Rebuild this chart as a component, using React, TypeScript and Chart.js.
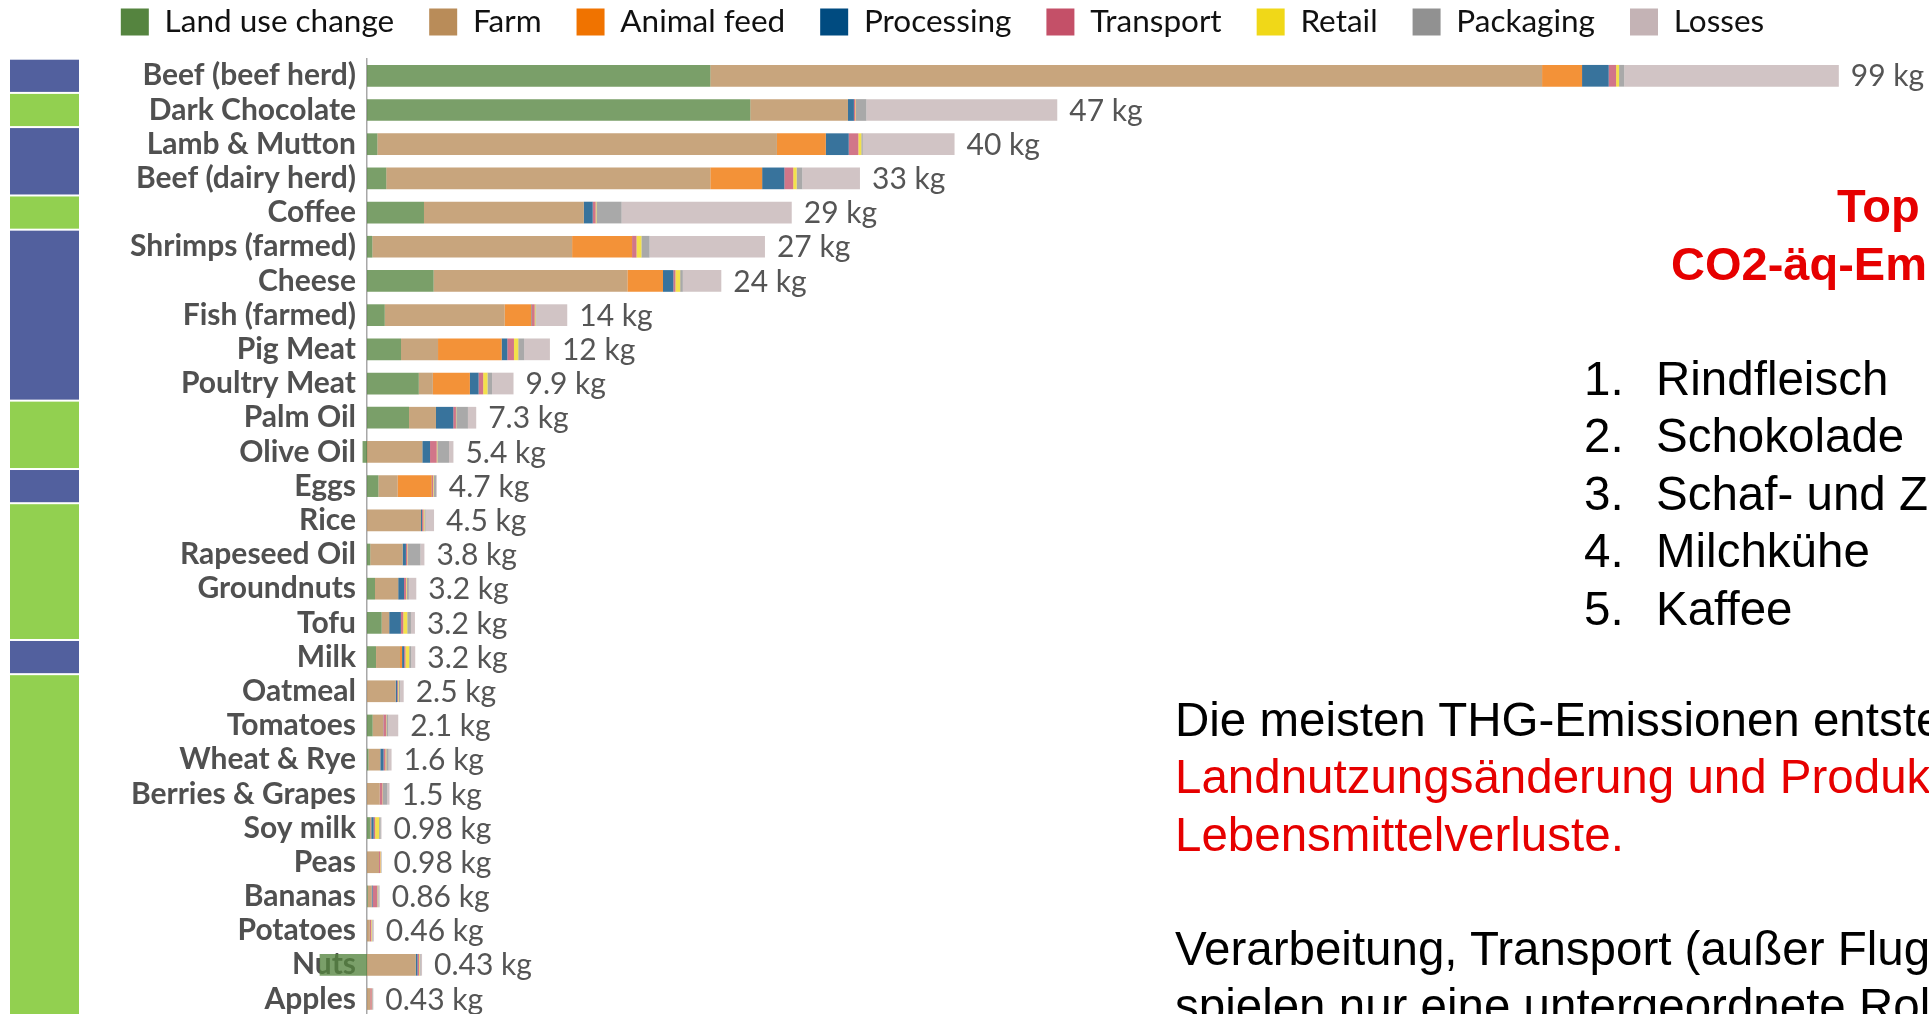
import React, { useEffect, useRef } from "react";
import { Chart, registerables } from "chart.js";

Chart.register(...registerables);

// ---------- DATA ----------
const categories = [
  "Beef (beef herd)", "Dark Chocolate", "Lamb & Mutton", "Beef (dairy herd)", "Coffee",
  "Shrimps (farmed)", "Cheese", "Fish (farmed)", "Pig Meat", "Poultry Meat",
  "Palm Oil", "Olive Oil", "Eggs", "Rice", "Rapeseed Oil", "Groundnuts", "Tofu", "Milk",
  "Oatmeal", "Tomatoes", "Wheat & Rye", "Berries & Grapes", "Soy milk", "Peas",
  "Bananas", "Potatoes", "Nuts", "Apples",
];

// animal (blue) vs plant (green) marker on the left
const foodGroup = [
  "animal", "plant", "animal", "animal", "plant",
  "animal", "animal", "animal", "animal", "animal",
  "plant", "plant", "animal", "plant", "plant", "plant", "plant", "animal",
  "plant", "plant", "plant", "plant", "plant", "plant",
  "plant", "plant", "plant", "plant",
];

const stageNames = ["Land use change", "Farm", "Animal feed", "Processing", "Transport", "Retail", "Packaging", "Losses"];

const landUseChange = [23.2, 25.9, 0.7, 1.3, 3.85, 0.36, 4.5, 1.2, 2.3, 3.5, 2.84, -0.3, 0.77, 0, 0.22, 0.54, 0.99, 0.61, 0, 0.38, 0.1, 0, 0.2, 0, 0.05, 0, -3.2, 0];
const farm = [56.2, 6.6, 27.0, 21.9, 10.8, 13.5, 13.1, 8.1, 2.5, 0.95, 1.82, 3.74, 1.3, 3.65, 2.19, 1.57, 0.51, 1.62, 1.94, 0.72, 0.8, 0.86, 0.09, 0.81, 0.27, 0.19, 3.3, 0.22];
const animalFeed = [2.7, 0, 3.3, 3.5, 0, 4.05, 2.4, 1.8, 4.3, 2.5, 0, 0, 2.3, 0, 0, 0, 0, 0.14, 0, 0, 0, 0, 0, 0, 0, 0, 0, 0];
const processing = [1.8, 0.4, 1.55, 1.5, 0.6, 0, 0.7, 0.03, 0.38, 0.59, 1.17, 0.52, 0.02, 0.07, 0.22, 0.39, 0.79, 0.14, 0.1, 0.01, 0.22, 0, 0.16, 0, 0.06, 0, 0.11, 0];
const transport = [0.5, 0.1, 0.65, 0.6, 0.2, 0.3, 0.14, 0.2, 0.45, 0.31, 0.18, 0.45, 0.08, 0.1, 0.09, 0.14, 0.16, 0.09, 0.06, 0.18, 0.13, 0.18, 0.1, 0.09, 0.3, 0.09, 0.11, 0.1];
const retail = [0.2, 0.04, 0.2, 0.23, 0.05, 0.33, 0.32, 0.05, 0.29, 0.29, 0.02, 0.04, 0.04, 0.06, 0.03, 0.04, 0.27, 0.25, 0.04, 0.02, 0.05, 0.02, 0.27, 0.04, 0.02, 0.04, 0.04, 0.02];
const packaging = [0.35, 0.7, 0.1, 0.38, 1.7, 0.55, 0.18, 0.05, 0.4, 0.31, 0.79, 0.79, 0.16, 0.08, 0.86, 0.15, 0.25, 0.14, 0.1, 0.13, 0.16, 0.3, 0.1, 0.04, 0.07, 0.04, 0.06, 0.04];
const losses = [14.5, 12.9, 6.2, 3.9, 11.5, 7.8, 2.6, 2.1, 1.74, 1.45, 0.56, 0.3, 0.05, 0.57, 0.27, 0.5, 0.27, 0.27, 0.24, 0.67, 0.2, 0.16, 0.06, 0, 0.09, 0.1, 0.1, 0.05];

const totalLabels = [
  "99 kg", "47 kg", "40 kg", "33 kg", "29 kg", "27 kg", "24 kg", "14 kg", "12 kg", "9.9 kg",
  "7.3 kg", "5.4 kg", "4.7 kg", "4.5 kg", "3.8 kg", "3.2 kg", "3.2 kg", "3.2 kg", "2.5 kg",
  "2.1 kg", "1.6 kg", "1.5 kg", "0.98 kg", "0.98 kg", "0.86 kg", "0.46 kg", "0.43 kg", "0.43 kg",
];

const stageValues = [landUseChange, farm, animalFeed, processing, transport, retail, packaging, losses];

const topTitle = ["Top 5", "CO2-äq-Emittenten"];
const topList = ["Rindfleisch", "Schokolade", "Schaf- und Ziegenfleisch", "Milchkühe", "Kaffee"];

// ---------- STYLE ----------
const legendColors = ["#55843f", "#b98c59", "#f07300", "#004b80", "#c45068", "#f0d818", "#919191", "#c4b3b5"];
const BAR_ALPHA = 0.78;
const STRIP_BLUE = "#52609e";
const STRIP_GREEN = "#92d050";
const RED = "#e60000";
const TICK_FONT_SIZE = 30;
const TICK_PADDING = 11;
const BOTTOM_PAD = (TICK_FONT_SIZE * 1.2) / 2 + TICK_PADDING;
const LEGEND_FONT = 31.5;
const LEGEND_PAD = 35;
const LEGEND_CENTER_Y = 22;
const PLOT_TOP = 58.7;
const PLOT_BOTTOM = 1016.1;
const TOP_PAD = LEGEND_CENTER_Y - LEGEND_PAD - LEGEND_FONT / 2;
const LEGEND_BOTTOM = TOP_PAD + LEGEND_FONT + LEGEND_PAD + 10;

function withAlpha(hex: string, a: number) {
  const r = parseInt(hex.slice(1, 3), 16);
  const g = parseInt(hex.slice(3, 5), 16);
  const b = parseInt(hex.slice(5, 7), 16);
  return `rgba(${r},${g},${b},${a})`;
}

const sideStripPlugin = {
  id: "sideStrip",
  afterDraw(chart: any) {
    const y = chart.scales.y;
    const ctx = chart.ctx;
    const n = categories.length;
    const half = (y.getPixelForValue(1) - y.getPixelForValue(0)) / 2;
    ctx.save();
    let start = 0;
    for (let i = 1; i <= n; i++) {
      if (i === n || foodGroup[i] !== foodGroup[start]) {
        const top = y.getPixelForValue(start) - half + 1;
        const bottom = y.getPixelForValue(i - 1) + half - 1;
        ctx.fillStyle = foodGroup[start] === "animal" ? STRIP_BLUE : STRIP_GREEN;
        ctx.fillRect(10, top, 69, bottom - top);
        start = i;
      }
    }
    ctx.restore();
  },
};

const totalsPlugin = {
  id: "totals",
  afterDatasetsDraw(chart: any) {
    const x = chart.scales.x;
    const y = chart.scales.y;
    const ctx = chart.ctx;
    ctx.save();
    ctx.font = "30px Lato";
    ctx.fillStyle = "#555555";
    ctx.textBaseline = "middle";
    ctx.textAlign = "left";
    categories.forEach((_, i) => {
      let pos = 0;
      chart.data.datasets.forEach((ds: any) => {
        const v = ds.data[i];
        if (v > 0) pos += v;
      });
      ctx.fillText(totalLabels[i], x.getPixelForValue(pos) + 12, y.getPixelForValue(i) + 1);
    });
    ctx.restore();
  },
};

function ChartBox() {
  const ref = useRef<HTMLCanvasElement | null>(null);
  useEffect(() => {
    if (!ref.current) return;
    const chart = new Chart(ref.current, {
      type: "bar",
      data: {
        labels: categories,
        datasets: stageNames.map((name, k) => ({
          label: name,
          data: stageValues[k],
          backgroundColor: withAlpha(legendColors[k], BAR_ALPHA),
          borderWidth: 0,
          barPercentage: 0.635,
          categoryPercentage: 1,
          clip: false as any,
        })),
      },
      options: {
        indexAxis: "y",
        animation: false,
        responsive: true,
        maintainAspectRatio: false,
        layout: { padding: { top: TOP_PAD, right: 44, left: 0, bottom: BOTTOM_PAD } },
        plugins: {
          tooltip: { enabled: false },
          legend: {
            display: true,
            position: "top",
            align: "center",
            labels: {
              boxWidth: 28,
              boxHeight: 27,
              padding: LEGEND_PAD,
              color: "#111111",
              font: { family: "Lato", size: LEGEND_FONT },
              generateLabels: (c: any) =>
                c.data.datasets.map((ds: any, i: number) => ({
                  text: ds.label,
                  fillStyle: legendColors[i],
                  strokeStyle: legendColors[i],
                  lineWidth: 0,
                  hidden: false,
                  datasetIndex: i,
                  fontColor: "#111111",
                })),
            },
          },
        },
        scales: {
          x: {
            stacked: true,
            position: "top",
            min: 0,
            max: 102.57,
            display: true,
            ticks: { display: false },
            grid: { display: false, drawTicks: false },
            border: { display: false },
            afterFit: (s: any) => { s.height = PLOT_TOP - LEGEND_BOTTOM; },
          },
          y: {
            stacked: true,
            ticks: {
              autoSkip: false,
              color: "#505050",
              font: { family: "Lato", size: TICK_FONT_SIZE, weight: "bold" },
              padding: TICK_PADDING,
            },
            grid: { display: false, drawTicks: false },
            border: { display: true, color: "#a8a8a8", width: 1.5 },
            afterFit: (s: any) => { s.width = 367; },
          },
        },
      },
      plugins: [sideStripPlugin, totalsPlugin],
    });
    return () => chart.destroy();
  }, []);
  return (
    <div style={{ position: "absolute", left: 0, top: 0, width: 1929, height: PLOT_BOTTOM + BOTTOM_PAD }}>
      <canvas ref={ref} />
    </div>
  );
}

const textBase: React.CSSProperties = {
  position: "absolute",
  whiteSpace: "nowrap",
  fontFamily: '"Liberation Sans", Arial, sans-serif',
  lineHeight: 1,
  margin: 0,
};

const TITLE_SIZE = 47;
const BODY_SIZE = 47.5;
const ASC = 0.8465;

export default function App() {
  const listBaseline0 = 395;
  const pitch = 57.5;
  const paraBaselines = [736, 793.3, 851, 965, 1022.5];
  const paraLines = [
    { t: "Die meisten THG-Emissionen entstehen durch", c: "#000" },
    { t: "Landnutzungsänderung und Produktion sowie", c: RED },
    { t: "Lebensmittelverluste.", c: RED },
    { t: "Verarbeitung, Transport (außer Flugtransport) und Verpackung", c: "#000" },
    { t: "spielen nur eine untergeordnete Rolle.", c: "#000" },
  ];
  return (
    <div
      style={{
        position: "fixed",
        left: 0,
        top: 0,
        width: 1929,
        height: 1014,
        overflow: "hidden",
        background: "#ffffff",
      }}
    >
      <ChartBox />
      <div style={{ ...textBase, left: 1837, top: 222 - ASC * TITLE_SIZE, fontSize: TITLE_SIZE, fontWeight: "bold", color: RED }}>{topTitle[0]}</div>
      <div style={{ ...textBase, left: 1671, top: 279.3 - ASC * TITLE_SIZE, fontSize: TITLE_SIZE, fontWeight: "bold", color: RED }}>{topTitle[1]}</div>
      {topList.map((t, i) => (
        <React.Fragment key={t}>
          <div style={{ ...textBase, left: 1584, top: listBaseline0 + pitch * i - ASC * BODY_SIZE, fontSize: BODY_SIZE, color: "#000" }}>{`${i + 1}.`}</div>
          <div style={{ ...textBase, left: 1656, top: listBaseline0 + pitch * i - ASC * BODY_SIZE, fontSize: BODY_SIZE, color: "#000" }}>{t}</div>
        </React.Fragment>
      ))}
      {paraLines.map((l, i) => (
        <div key={i} style={{ ...textBase, left: 1175, top: paraBaselines[i] - ASC * BODY_SIZE, fontSize: BODY_SIZE, color: l.c }}>{l.t}</div>
      ))}
    </div>
  );
}
